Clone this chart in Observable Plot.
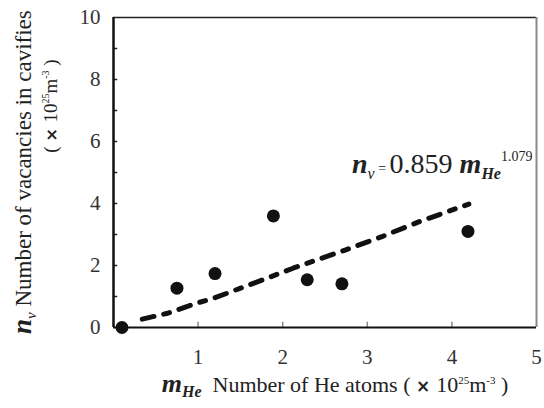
<!DOCTYPE html>
<html>
<head>
<meta charset="utf-8">
<script src="https://cdn.jsdelivr.net/npm/d3@7"></script>
<script src="https://cdn.jsdelivr.net/npm/@observablehq/plot@0.6"></script>
<style>
  html, body { margin: 0; padding: 0; background: #fff; }
  #chart { width: 544px; height: 408px; }
</style>
</head>
<body>
<div id="chart"></div>
<script>
// Measured data points (m_He, n_v)
const mHe = [0.1, 0.75, 1.2, 1.89, 2.29, 2.7, 4.19];
const nV  = [0.0, 1.27, 1.74, 3.60, 1.54, 1.41, 3.10];

// Fitted trend line
const fitX = [0.34, 0.64, 0.99, 1.19, 1.66, 2.13, 2.73, 3.18, 3.63, 4.2];
const fitY = [0.27, 0.46, 0.79, 0.95, 1.43, 1.92, 2.49, 2.94, 3.43, 3.98];

// Axis ticks
const xTickLabels = [1, 2, 3, 4, 5];
const xMinorTicks = [1, 2, 3, 4];
const yTickLabels = [0, 2, 4, 6, 8, 10];
const yMinorTicks = [1, 2, 3, 4, 5, 6, 7, 8, 9];

const points = mHe.map((x, i) => ({x, y: nV[i]}));
const fit = fitX.map((x, i) => ({x, y: fitY[i]}));

const SERIF = "Liberation Serif, serif";

const chart = Plot.plot({
  width: 544,
  height: 408,
  marginLeft: 113,
  marginRight: 8,
  marginTop: 17,
  marginBottom: 81,
  style: {background: "#fff", color: "#222", fontFamily: SERIF},
  x: {domain: [0, 5]},
  y: {domain: [0, 10]},
  marks: [
    Plot.axisX(xTickLabels, {tickSize: 0, tickPadding: 22, fontSize: 21, label: null, fill: "#333"}),
    Plot.axisY(yTickLabels, {tickSize: 0, tickPadding: 13, fontSize: 21, label: null, fill: "#333"}),
    Plot.ruleX(xMinorTicks, {y1: 0, y2: 0.17, stroke: "#888", strokeWidth: 1.5}),
    Plot.ruleY(yMinorTicks, {x1: 0, x2: 0.05, stroke: "#222", strokeWidth: 1.5}),
    Plot.ruleY([10], {stroke: "#222", strokeWidth: 1.5}),
    Plot.ruleX([5], {stroke: "#888", strokeWidth: 2}),
    Plot.ruleX([0], {stroke: "#111", strokeWidth: 2.5}),
    Plot.ruleY([0], {stroke: "#111", strokeWidth: 2}),
    Plot.line(fit, {x: "x", y: "y", stroke: "#111", strokeWidth: 5, strokeDasharray: "12,10,6,10"}),
    Plot.dot(points, {x: "x", y: "y", r: 6.5, fill: "#111", stroke: "none"})
  ]
});

document.getElementById("chart").appendChild(chart);

const svg = d3.select(chart);

// X axis title
const xt = svg.append("text")
  .attr("x", 335).attr("y", 392)
  .attr("text-anchor", "middle")
  .attr("font-size", 22).attr("fill", "#222");
xt.append("tspan").attr("font-style", "italic").attr("font-weight", "bold").attr("font-size", 26).text("m");
xt.append("tspan").attr("font-style", "italic").attr("font-weight", "bold").attr("font-size", 16).attr("dy", 5).text("He");
xt.append("tspan").attr("dy", -5).text("  Number of He atoms ( ");
xt.append("tspan").attr("class", "sym").attr("font-weight", "bold").attr("font-size", 17).text("× ");
xt.append("tspan").text("10");
xt.append("tspan").attr("font-size", 11).attr("dy", -8).text("25");
xt.append("tspan").attr("dy", 8).text("m");
xt.append("tspan").attr("font-size", 11).attr("dy", -8).text("-3");
xt.append("tspan").attr("dy", 8).text(" )");

// Y axis title (two lines, rotated)
const y1 = svg.append("text")
  .attr("transform", "translate(31,334) rotate(-90)")
  .attr("text-anchor", "start")
  .attr("font-size", 23).attr("fill", "#222");
y1.append("tspan").attr("font-style", "italic").attr("font-weight", "bold").attr("font-size", 27).text("n");
y1.append("tspan").attr("font-style", "italic").attr("font-size", 15).attr("dy", 5).text("v");
y1.append("tspan").attr("dy", -5).text(" Number of vacancies in cavifies");

const y2 = svg.append("text")
  .attr("transform", "translate(57,106) rotate(-90)")
  .attr("text-anchor", "middle")
  .attr("font-size", 19).attr("fill", "#222");
y2.append("tspan").text("( ");
y2.append("tspan").attr("class", "sym").attr("font-weight", "bold").attr("font-size", 16).text("× ");
y2.append("tspan").text("10");
y2.append("tspan").attr("font-size", 10).attr("dy", -8).text("25");
y2.append("tspan").attr("dy", 8).text("m");
y2.append("tspan").attr("font-size", 10).attr("dy", -8).text("-3");
y2.append("tspan").attr("dy", 8).text(" )");

// Fit equation
const eq = svg.append("text")
  .attr("x", 352).attr("y", 173)
  .attr("text-anchor", "start")
  .attr("font-size", 28).attr("fill", "#222");
eq.append("tspan").attr("font-style", "italic").attr("font-weight", "bold").text("n");
eq.append("tspan").attr("font-style", "italic").attr("font-size", 16).attr("dy", 6).text("v");
eq.append("tspan").attr("font-size", 14).attr("dy", -6).text(" = ");
eq.append("tspan").text("0.859 ");
eq.append("tspan").attr("font-style", "italic").attr("font-weight", "bold").text("m");
eq.append("tspan").attr("font-style", "italic").attr("font-weight", "bold").attr("font-size", 16).attr("dy", 6).text("He");
eq.append("tspan").attr("font-size", 14).attr("dy", -18).text("1.079");

// Fonts
svg.selectAll("text, tspan").each(function () {
  const isSym = this.classList && this.classList.contains("sym");
  this.setAttribute("font-family", isSym ? "DejaVu Sans, sans-serif" : SERIF);
});
</script>
</body>
</html>
